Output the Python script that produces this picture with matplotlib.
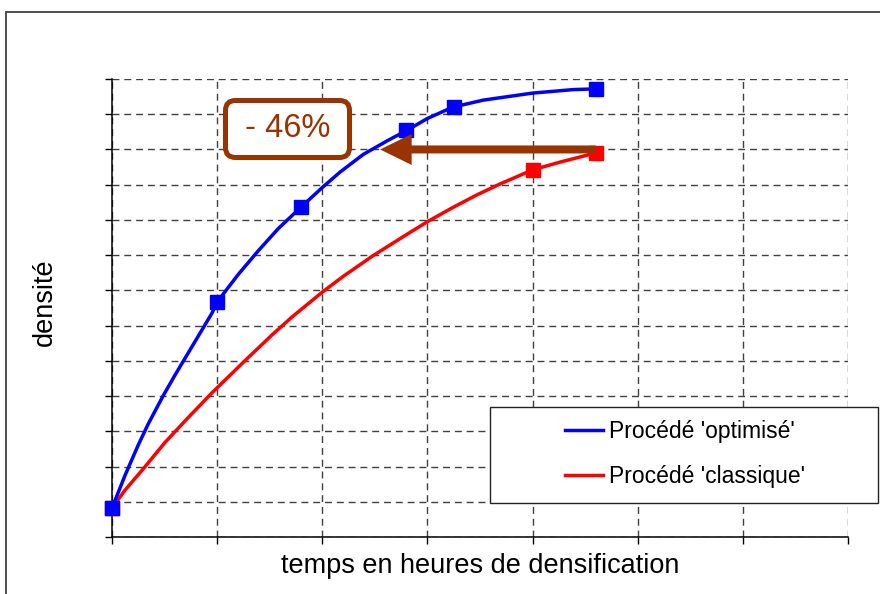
import matplotlib
matplotlib.use('Agg')
from matplotlib import pyplot as plt
from matplotlib.patches import Rectangle, FancyBboxPatch
import numpy as np

plt.rcParams['font.family'] = ['Liberation Sans', 'DejaVu Sans']
plt.rcParams['lines.scale_dashes'] = False

# curves (x: hours, y: grid units)
opt_x = [0, 0.124, 0.248, 0.343, 0.485, 0.6, 0.69, 0.79, 0.95, 1.0, 1.2, 1.39,
         1.58, 1.8, 2.0, 2.17, 2.39, 2.62, 2.81, 3.0, 3.24, 3.53, 4.0, 4.39, 4.6]
opt_y = [0.82, 1.75, 2.6, 3.2, 4.0, 4.6, 5.05, 5.55, 6.35, 6.67, 7.45, 8.12,
         8.75, 9.37, 9.92, 10.36, 10.86, 11.25, 11.55, 11.88, 12.2, 12.4, 12.6, 12.7, 12.72]
cla_x = [0, 0.124, 0.31, 0.5, 0.69, 0.95, 1.05, 1.27, 1.52, 1.71, 2.0, 2.2,
         2.48, 2.81, 3.0, 3.24, 3.47, 3.69, 4.0, 4.26, 4.6]
cla_y = [0.82, 1.33, 1.98, 2.67, 3.28, 4.09, 4.38, 5.02, 5.73, 6.24, 6.95, 7.40,
         7.98, 8.6, 8.95, 9.35, 9.71, 10.02, 10.42, 10.64, 10.9]

# measured points (square markers)
opt_mx = [0, 1.0, 1.8, 2.8, 3.25, 4.6]
opt_my = [0.82, 6.67, 9.37, 11.55, 12.2, 12.72]
cla_mx = [0, 4.0, 4.6]
cla_my = [0.82, 10.42, 10.9]

labels = ["Procédé 'optimisé'", "Procédé 'classique'"]
gain_text = '- 46%'
arrow_start, arrow_end, arrow_y = 4.6, 2.55, 11.0

brown = '#993300'

fig = plt.figure(figsize=(8.8, 5.94), dpi=100)
ax = fig.add_axes([112 / 880, 1 - 537 / 594, 736 / 880, 458 / 594])

l_cla, = ax.plot(cla_x, cla_y, color='#ff0000', lw=2.5, zorder=3)
ax.plot(cla_mx, cla_my, 's', color='#ff0000', ms=10, zorder=3, clip_on=False)
l_opt, = ax.plot(opt_x, opt_y, color='#0000ff', lw=2.5, zorder=4)
ax.plot(opt_mx, opt_my, 's', color='#0000ff', ms=10, zorder=4, clip_on=False)

ax.set_xlim(0, 7)
ax.set_ylim(0, 13)
ax.set_xticks(np.arange(0, 8))
ax.set_yticks(np.arange(0, 14))
ax.tick_params(direction='out', length=5, width=1, labelleft=False, labelbottom=False)
ax.grid(True, color='#404040', lw=1, linestyle=(0, (5, 3.5)))
ax.set_axisbelow(True)
for s in ['top', 'right']:
    ax.spines[s].set_visible(False)
for s in ['left', 'bottom']:
    ax.spines[s].set_linewidth(1.1)

ax.set_xlabel('temps en heures de densification', fontsize=19.5)
ax.xaxis.set_label_coords(0.5, (537 - 553) / 458)
ax.set_ylabel('densité', fontsize=19.5)
ax.yaxis.label.set_va('center')
ax.yaxis.set_label_coords((45 - 112) / 736, (537 - 302) / 458)

# arrow "- 46%"
ax.arrow(arrow_start, arrow_y, arrow_end - arrow_start, 0, width=0.227,
         head_width=0.88, head_length=0.30, length_includes_head=True,
         color=brown, lw=0, zorder=5)
box = FancyBboxPatch((2.255, 4.365), 1.24, 0.57, boxstyle='round,pad=0,rounding_size=0.1',
                     transform=fig.dpi_scale_trans, fc='white', ec=brown, lw=3.6, zorder=6)
ax.add_artist(box)
box.set_clip_on(False)
ax.text(2.875, 4.65, gain_text, transform=fig.dpi_scale_trans, fontsize=23.5,
        color=brown, ha='center', va='center', zorder=7)

# legend frame + legend
frame = Rectangle((490 / 880, 1 - 503 / 594), 388 / 880, 96 / 594, transform=fig.transFigure,
                  fc='white', ec='#222222', lw=1, zorder=8, clip_on=False)
ax.add_artist(frame)
leg = ax.legend([l_opt, l_cla], labels, loc='center left',
                bbox_to_anchor=(565 / 880, 1 - 454 / 594),
                bbox_transform=fig.transFigure, frameon=False, fontsize=16.5,
                handlelength=1.65, handletextpad=0.25, labelspacing=1.0,
                borderpad=0, borderaxespad=0)
leg.set_zorder(9)

# outer chart border
fig.patches.append(Rectangle((6 / 880, -0.1), 1.2, 1.1 - 12 / 594, transform=fig.transFigure,
                             fill=False, ec='#404040', lw=1.3, figure=fig))

fig.savefig('out.png', dpi=100)
